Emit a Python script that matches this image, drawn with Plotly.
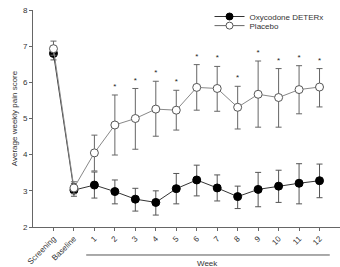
import plotly.graph_objects as go

labels = ["Screening", "Baseline"] + [str(i) for i in range(1, 13)]
oxy = [6.80, 3.02, 3.16, 2.98, 2.77, 2.68, 3.06, 3.30, 3.08, 2.84, 3.04, 3.13, 3.21, 3.28]
oxy_hi = [6.95, 3.20, 3.52, 3.30, 3.07, 3.00, 3.48, 3.71, 3.44, 3.13, 3.51, 3.57, 3.75, 3.74]
oxy_lo = [6.62, 2.85, 2.80, 2.64, 2.44, 2.33, 2.64, 2.86, 2.72, 2.51, 2.56, 2.68, 2.64, 2.81]
pla = [6.93, 3.08, 4.05, 4.82, 5.00, 5.26, 5.23, 5.86, 5.83, 5.31, 5.67, 5.58, 5.80, 5.87]
pla_hi = [7.14, 3.25, 4.54, 5.65, 5.83, 6.03, 5.78, 6.49, 6.44, 5.89, 6.59, 6.38, 6.46, 6.38]
pla_lo = [6.75, 2.92, 3.55, 3.99, 4.15, 4.51, 4.68, 5.23, 5.20, 4.71, 4.76, 4.76, 5.13, 5.32]
signif = [False, False, False] + [True] * 11

xs = list(range(len(labels)))
font = "Liberation Sans, Arial, sans-serif"

fig = go.Figure()
fig.add_trace(go.Scatter(
    x=xs, y=oxy, mode="lines+markers", name="Oxycodone DETERx", showlegend=False,
    line=dict(color="#333333", width=1),
    marker=dict(symbol="circle", size=8, color="black", line=dict(color="black", width=1)),
    error_y=dict(type="data", symmetric=False,
                 array=[h - v for h, v in zip(oxy_hi, oxy)],
                 arrayminus=[v - l for v, l in zip(oxy, oxy_lo)],
                 color="#555555", thickness=1, width=3),
))
fig.add_trace(go.Scatter(
    x=xs, y=pla, mode="lines+markers", name="Placebo", showlegend=False,
    line=dict(color="#888888", width=1),
    marker=dict(symbol="circle", size=8, color="white", line=dict(color="#555555", width=1)),
    error_y=dict(type="data", symmetric=False,
                 array=[h - v for h, v in zip(pla_hi, pla)],
                 arrayminus=[v - l for v, l in zip(pla, pla_lo)],
                 color="#666666", thickness=1, width=3),
))
# legend-only entries (no error bars in the legend symbol)
fig.add_trace(go.Scatter(
    x=[None], y=[None], mode="lines+markers", name="Oxycodone DETERx", legend="legend",
    line=dict(color="#333333", width=1),
    marker=dict(symbol="circle", size=7, color="black", line=dict(color="black", width=1)),
))
fig.add_trace(go.Scatter(
    x=[None], y=[None], mode="lines+markers", name="Placebo", legend="legend2",
    line=dict(color="#666666", width=1),
    marker=dict(symbol="circle", size=7, color="white", line=dict(color="#555555", width=1)),
))
sx = [x for x, s in zip(xs, signif) if s]
sy = [h + 0.22 for h, s in zip(pla_hi, signif) if s]
fig.add_trace(go.Scatter(
    x=sx, y=sy, mode="text", text=["*"] * len(sx), showlegend=False,
    textfont=dict(size=8, color="#222222", family=font), textposition="middle center",
    hoverinfo="skip",
))

legend_common = dict(xanchor="left", yanchor="middle", bgcolor="rgba(0,0,0,0)",
                     font=dict(size=8, color="#333333"), itemwidth=30)
fig.update_layout(
    width=340, height=267,
    margin=dict(l=33, r=0, t=10, b=40),
    plot_bgcolor="white", paper_bgcolor="white",
    font=dict(family=font, size=8, color="#333333"),
    showlegend=True,
    legend=dict(x=0.575, y=0.97, **legend_common),
    legend2=dict(x=0.575, y=0.928, **legend_common),
    xaxis=dict(range=[-1, 14], tickvals=xs, ticktext=labels, tickangle=-45,
               showgrid=False, zeroline=False, showline=True, linecolor="#666666",
               linewidth=1, ticks="outside", ticklen=3, tickcolor="#666666",
               tickfont=dict(size=8, color="#333333")),
    yaxis=dict(range=[2, 8], dtick=1, showgrid=False, zeroline=False, showline=True,
               linecolor="#666666", linewidth=1, ticks="outside", ticklen=3,
               tickcolor="#666666", tickfont=dict(size=8, color="#333333"),
               title=dict(text="Average weekly pain score", font=dict(size=8, color="#333333"),
                          standoff=4)),
)

fig.add_shape(type="line", xref="x", yref="paper", x0=1.6, x1=13.5, y0=-0.129, y1=-0.129,
              line=dict(color="#555555", width=1))
fig.add_annotation(x=7.55, xref="x", y=-0.166, yref="paper", text="Week", showarrow=False,
                   yanchor="middle", font=dict(size=8, color="#333333"))

fig.write_html("out.html")
